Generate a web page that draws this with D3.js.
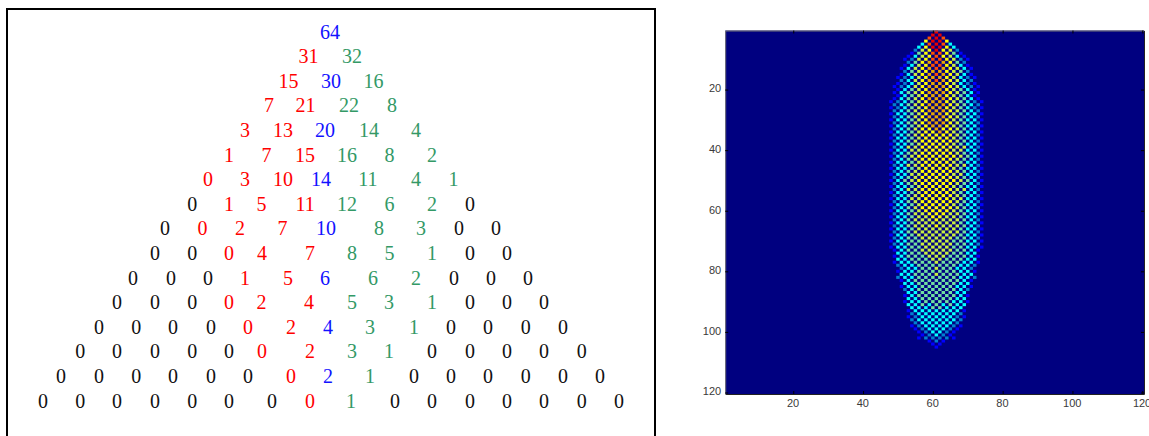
<!DOCTYPE html>
<html>
<head>
<meta charset="utf-8">
<script src="https://cdn.jsdelivr.net/npm/d3@7"></script>
<style>
  html, body { margin: 0; padding: 0; background: #fff; overflow: hidden; }
  .tri text { font-family: "Liberation Serif", serif; font-size: 20px; text-anchor: middle; }
  .tick text { font-family: "Liberation Sans", sans-serif; font-size: 11px; fill: #3a3a3a; }
</style>
</head>
<body>
<script>
// left panel: numbers per row, tab position of each number, k/r/b/g colour group
const triValues = [
  [64],
  [31, 32],
  [15, 30, 16],
  [7, 21, 22, 8],
  [3, 13, 20, 14, 4],
  [1, 7, 15, 16, 8, 2],
  [0, 3, 10, 14, 11, 4, 1],
  [0, 1, 5, 11, 12, 6, 2, 0],
  [0, 0, 2, 7, 10, 8, 3, 0, 0],
  [0, 0, 0, 4, 7, 8, 5, 1, 0, 0],
  [0, 0, 0, 1, 5, 6, 6, 2, 0, 0, 0],
  [0, 0, 0, 0, 2, 4, 5, 3, 1, 0, 0, 0],
  [0, 0, 0, 0, 0, 2, 4, 3, 1, 0, 0, 0, 0],
  [0, 0, 0, 0, 0, 0, 2, 3, 1, 0, 0, 0, 0, 0],
  [0, 0, 0, 0, 0, 0, 0, 2, 1, 0, 0, 0, 0, 0, 0],
  [0, 0, 0, 0, 0, 0, 0, 0, 1, 0, 0, 0, 0, 0, 0, 0]
];
const triTabs = [
  [-0.05],
  [-1.21, 1.12],
  [-2.28, 0, 2.28],
  [-3.32, -1.37, 0.96, 3.27],
  [-4.61, -2.57, -0.32, 2.04, 4.55],
  [-5.46, -3.45, -1.39, 0.86, 3.13, 5.41],
  [-6.59, -4.61, -2.57, -0.54, 1.98, 4.55, 6.56],
  [-7.44, -5.46, -3.72, -1.39, 0.86, 3.13, 5.41, 7.45],
  [-8.89, -6.88, -4.87, -2.6, -0.27, 2.57, 4.82, 6.86, 8.84],
  [-9.43, -7.44, -5.46, -3.7, -1.12, 1.12, 3.13, 5.41, 7.45, 9.43],
  [-10.61, -8.57, -6.59, -4.61, -2.3, -0.32, 2.25, 4.55, 6.59, 8.57, 10.55],
  [-11.46, -9.43, -7.44, -5.46, -3.72, -1.18, 1.12, 3.11, 5.41, 7.45, 9.43, 11.41],
  [-12.43, -10.44, -8.46, -6.43, -4.45, -2.14, -0.16, 2.09, 4.45, 6.43, 8.41, 10.44, 12.43],
  [-13.44, -11.46, -9.43, -7.44, -5.46, -3.7, -1.12, 1.12, 3.11, 5.41, 7.45, 9.43, 11.41, 13.44],
  [-14.46, -12.43, -10.44, -8.46, -6.43, -4.45, -2.14, -0.16, 2.09, 4.45, 6.43, 8.41, 10.44, 12.43, 14.41],
  [-15.43, -13.44, -11.46, -9.43, -7.44, -5.46, -3.16, -1.12, 1.07, 3.43, 5.41, 7.45, 9.43, 11.41, 13.44, 15.43]
];
const triGroups = [
  'b', 'rg', 'rbg', 'rrgg', 'rrbgg', 'rrrggg', 'rrrbggg', 'krrrgggk',
  'krrrbggkk', 'kkrrrgggkk', 'kkkrrbggkkk', 'kkkrrrgggkkk', 'kkkkrrbggkkkk',
  'kkkkkrrggkkkkk', 'kkkkkkrbgkkkkkk', 'kkkkkkkrgkkkkkkk'
];
const groupColours = { k: '#111111', r: '#ff0000', b: '#1212ff', g: '#339966' };

// right panel: one string per image row from row 1, every other column is
// empty, digits are the levels of the filled cells, centred on column 61
const heatRows = [
  '9', '99', '898', '6996', '38983', '369963', '2569652', '14688641',
  '135686531', '1256886521', '246787642', '1356886531', '13567876531', '2456776542',
  '13567876531', '123567765321', '23567876532', '123567765321', '1235677765321', '134567765431',
  '1345677765431', '134567765431', '1345677765431', '12345677654321', '2345677765432', '12345677654321',
  '2345677765432', '13345677654331', '2345677765432', '13345677654331', '2345677765432', '13345677654331',
  '2345667665432', '13345667654331', '2345666665432', '13345666654331', '2345666665432', '13345666654331',
  '2355666665532', '13355666655331', '2345666665432', '13456666665431', '2345666665432', '13345666654331',
  '2355666665532', '13345666654331', '2345666665432', '13355666655331', '2345666665432', '13456666665431',
  '2345666665432', '13345666654331', '2355666665532', '13345666654331', '2345666665432', '13355666655331',
  '2345666665432', '13345666654331', '2345666665432', '13345666654331', '2345566655432', '13345566554331',
  '2345556555432', '13345555554331', '2345556555432', '13345555554331', '2345555555432', '13345555554331',
  '2344555554432', '13344555544331', '2344555554432', '13344555544331', '1344555554431', '334455554433',
  '1344455544431', '334445544433', '1334445444331', '233444444332', '23344544332', '133444444331',
  '33444544433', '233444444332', '13444444431', '3344444433', '13344444331', '2344444432',
  '334444433', '1344444431', '334444433', '1334444331', '334343433', '33344333',
  '133333331', '23333332', '123333321', '23333332', '2333332', '12333321',
  '1233321', '123321', '12321', '122221', '121', '11', '1'
];
const heatLevels = [0, 1, 2, 3, 4, 5, 6, 7, 8, 9];
const heatColours = ['#000080', '#0000ff', '#0080d0', '#00ffff', '#70e0a0', '#c8f040', '#ffff00', '#e8a800', '#ff5000', '#e80000'];
const axisTicks = [20, 40, 60, 80, 100, 120];

const svg = d3.select('body').append('svg')
  .attr('width', 1149)
  .attr('height', 436);

// left panel
const tabScale = d3.scaleLinear().domain([-15.43, 15.43]).range([43, 619]);
const rowScale = d3.scaleLinear().domain([0, 15]).range([32, 401]);

svg.append('path')
  .attr('d', 'M7,436V9H655V436')
  .attr('fill', 'none')
  .attr('stroke', '#000')
  .attr('stroke-width', 2);

const tri = svg.append('g').attr('class', 'tri');
triValues.forEach((row, i) => {
  tri.selectAll('text.row' + i)
    .data(row)
    .enter()
    .append('text')
    .attr('class', 'row' + i)
    .attr('x', (d, j) => tabScale(triTabs[i][j]))
    .attr('y', rowScale(i))
    .attr('dy', '0.33em')
    .attr('fill', (d, j) => groupColours[triGroups[i][j]])
    .text(d => d);
});

// right panel
const xScale = d3.scaleLinear().domain([0.5, 120.5]).range([725.2, 1144]);
const yScale = d3.scaleLinear().domain([0.5, 120.5]).range([30.5, 394]);
const colour = d3.scaleLinear().domain(heatLevels).range(heatColours);

svg.append('rect')
  .attr('x', xScale(0.5))
  .attr('y', yScale(0.5))
  .attr('width', xScale(120.5) - xScale(0.5))
  .attr('height', yScale(120.5) - yScale(0.5))
  .attr('fill', colour(0));

const cells = [];
heatRows.forEach((row, i) => {
  row.split('').forEach((level, j) => {
    cells.push({ row: i + 1, col: 61 - (row.length - 1) + 2 * j, level: +level });
  });
});

svg.append('g')
  .style('filter', 'blur(0.45px)')
  .selectAll('rect')
  .data(cells)
  .enter()
  .append('rect')
  .attr('x', d => xScale(d.col - 0.5))
  .attr('y', d => yScale(d.row - 0.5))
  .attr('width', xScale(1.5) - xScale(0.5))
  .attr('height', yScale(1.5) - yScale(0.5))
  .attr('fill', d => colour(d.level));

const xAxis = svg.append('g')
  .attr('transform', `translate(0, ${yScale(120.5)})`)
  .call(d3.axisBottom(xScale).tickValues(axisTicks).tickSize(-3).tickPadding(5).tickSizeOuter(0));
const yAxis = svg.append('g')
  .attr('transform', `translate(${xScale(0.5)}, 0)`)
  .call(d3.axisLeft(yScale).tickValues(axisTicks).tickSize(-3).tickPadding(4).tickSizeOuter(0));
const xTop = svg.append('g')
  .attr('transform', `translate(0, ${yScale(0.5)})`)
  .call(d3.axisTop(xScale).tickValues(axisTicks).tickSize(-3).tickFormat('').tickSizeOuter(0));
const yRight = svg.append('g')
  .attr('transform', `translate(${xScale(120.5)}, 0)`)
  .call(d3.axisRight(yScale).tickValues(axisTicks).tickSize(-3).tickFormat('').tickSizeOuter(0));

xAxis.selectAll('.tick text').attr('dx', -0.7);
yAxis.selectAll('.tick text').attr('dy', '0.22em');

// top and left edges of the frame are lighter than bottom and right
xAxis.select('.domain').attr('stroke', '#222');
yRight.select('.domain').attr('stroke', '#222');
xTop.select('.domain').attr('stroke', '#777');
yAxis.select('.domain').attr('stroke', '#777');
</script>
</body>
</html>
